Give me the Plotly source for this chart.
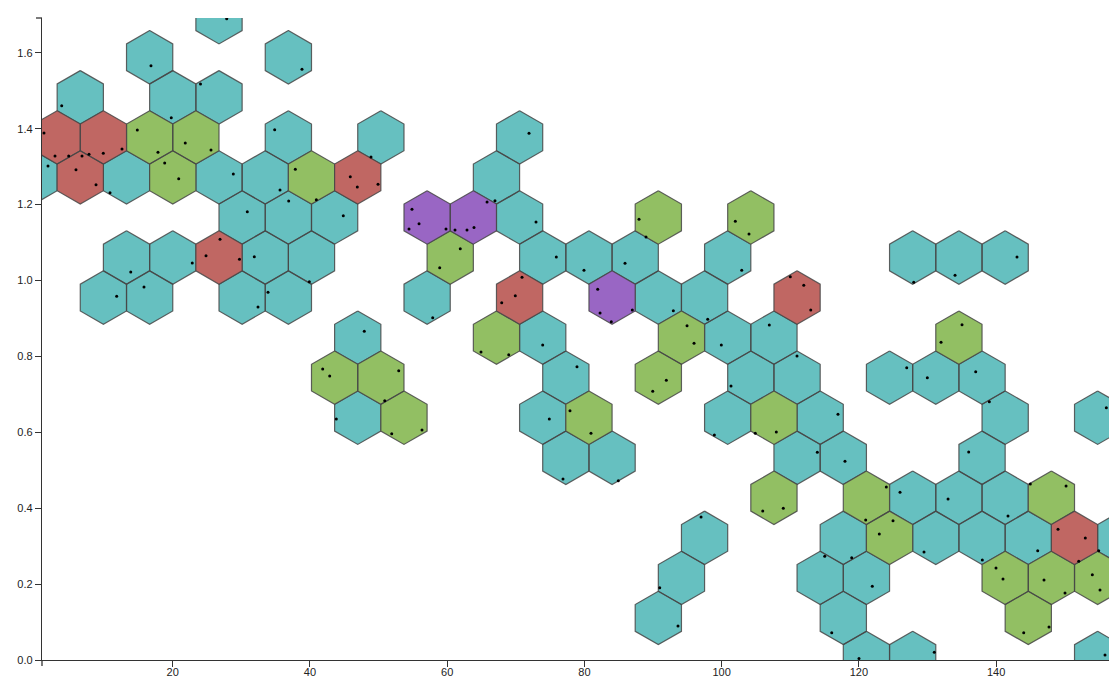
import numpy as np
import plotly.graph_objects as go

# Observations (x, y)
x_obs = [
    27.87, 16.83, 38.84, 3.82, 19.79, 24.05, 2.84, 4.84, 1.24, 7.80,
    9.88, 12.61, 14.84, 17.85, 21.83, 25.58, 34.86, 48.90, 71.93, 1.82,
    5.90, 8.82, 6.78, 10.86, 18.83, 20.87, 28.83, 35.64, 37.87, 40.93,
    45.88, 46.90, 49.92, 66.97, 30.87, 36.90, 44.86, 54.87, 55.90, 54.44,
    59.83, 65.81, 62.89, 63.91, 61.14, 72.95, 87.96, 88.98, 102.00, 103.99,
    13.88, 22.85, 26.89, 24.85, 29.73, 31.89, 39.91, 61.91, 58.91, 75.91,
    79.94, 85.92, 102.93, 128.00, 134.02, 143.05, 11.83, 15.81, 32.43, 33.89,
    57.89, 70.91, 69.93, 67.95, 81.94, 86.98, 82.28, 83.92, 92.96, 97.97,
    110.01, 111.97, 112.99, 47.92, 64.93, 68.97, 73.92, 94.96, 95.98, 99.96,
    106.95, 135.04, 131.98, 41.86, 42.88, 52.94, 50.90, 78.92, 91.94, 89.96,
    101.37, 110.99, 126.98, 129.98, 137.03, 43.84, 51.92, 56.33, 74.89, 77.90,
    80.96, 98.94, 104.91, 107.97, 116.96, 139.02, 156.07, 76.88, 84.94, 113.95,
    117.98, 136.01, 105.99, 108.99, 124.00, 121.00, 126.00, 133.00, 141.74, 144.99,
    150.20, 97.00, 118.96, 124.98, 122.98, 129.50, 138.00, 146.07, 149.03, 153.01,
    152.05, 154.96, 90.98, 115.03, 121.96, 139.99, 141.01, 146.99, 150.05, 154.03,
    155.15, 93.64, 116.05, 144.03, 147.72, 120.02, 131.00, 155.88,
]
y_obs = [
    1.690, 1.566, 1.5565, 1.4606, 1.429, 1.5178, 1.328, 1.328, 1.3887, 1.3325,
    1.3352, 1.3465, 1.3966, 1.3378, 1.3623, 1.3439, 1.3974, 1.3254, 1.3879, 1.3017,
    1.2920, 1.2524, 1.3280, 1.2313, 1.3096, 1.2682, 1.2806, 1.2385, 1.2930, 1.2129,
    1.2735, 1.2464, 1.2535, 1.2103, 1.1813, 1.2095, 1.1707, 1.1876, 1.1497, 1.1357,
    1.1357, 1.2068, 1.1331, 1.1396, 1.1331, 1.1541, 1.1612, 1.1146, 1.1560, 1.1225,
    1.0224, 1.0461, 1.1085, 1.0653, 1.0558, 1.0627, 0.9968, 1.0838, 1.0337, 1.0619,
    1.0269, 1.0453, 1.0269, 0.9953, 1.0137, 1.0619, 0.9583, 0.9829, 0.9302, 0.9689,
    0.9020, 1.0084, 0.9599, 0.9415, 0.9768, 0.9223, 0.9143, 0.8914, 0.9204, 0.8977,
    1.0100, 0.9873, 0.9223, 0.8661, 0.8116, 0.8045, 0.8300, 0.8809, 0.8345, 0.8300,
    0.8827, 0.8835, 0.8372, 0.7668, 0.7483, 0.7623, 0.6833, 0.7729, 0.7370, 0.7080,
    0.7220, 0.8010, 0.7702, 0.7439, 0.7597, 0.6350, 0.5963, 0.6060, 0.6350, 0.6569,
    0.5974, 0.5929, 0.5974, 0.6008, 0.6474, 0.6806, 0.6648, 0.4769, 0.4725, 0.5473,
    0.5236, 0.5481, 0.3926, 0.3997, 0.4559, 0.3689, 0.4419, 0.4242, 0.3794, 0.4638,
    0.4585, 0.3768, 0.2696, 0.3671, 0.3320, 0.2846, 0.2635, 0.2880, 0.3444, 0.3215,
    0.2601, 0.2880, 0.1905, 0.2733, 0.1942, 0.2424, 0.2134, 0.2108, 0.1765, 0.2248,
    0.1845, 0.0896, 0.0719, 0.0719, 0.0870, 0.0040, 0.0203, 0.0130,
]

x_ticks = [20, 40, 60, 80, 100, 120, 140]
y_ticks = [0.0, 0.2, 0.4, 0.6, 0.8, 1.0, 1.2, 1.4, 1.6]

# Fill colour per bin count
count_colors = {1: "#66c0c0", 2: "#92bf63", 3: "#c06763", 4: "#9966c4"}

# Hexagonal grid (pointy-top) expressed in data units
HEX_DX = 6.740       # horizontal distance between neighbouring centres
HEX_DY = 0.10553     # vertical distance between rows
HEX_X0 = -0.215
HEX_Y0 = 0.0053
HALF_W = HEX_DX / 2
RAD_Y = HEX_DY / 1.5

X_RANGE = [0.947, 156.46]
Y_RANGE = [0.0, 1.6917]


def hex_cell(x, y):
    """Return (row, col) of the hexagon containing (x, y)."""
    v = (y - HEX_Y0) / HEX_DY
    best = None
    for m in (int(np.floor(v)), int(np.floor(v)) + 1):
        off = 0.5 if m % 2 else 0.0
        u = (x - HEX_X0) / HEX_DX - off
        for k in (int(np.floor(u)), int(np.floor(u)) + 1):
            cx = HEX_X0 + (k + off) * HEX_DX
            cy = HEX_Y0 + m * HEX_DY
            d = ((x - cx) / HEX_DX * np.sqrt(3)) ** 2 + ((y - cy) / HEX_DY * 1.5) ** 2
            if best is None or d < best[0]:
                best = (d, m, k)
    return best[1], best[2]


bins = {}
for xv, yv in zip(x_obs, y_obs):
    cell = hex_cell(xv, yv)
    bins[cell] = bins.get(cell, 0) + 1

fig = go.Figure()

for count, color in count_colors.items():
    xs, ys = [], []
    for (m, k), c in bins.items():
        if c != count:
            continue
        off = 0.5 if m % 2 else 0.0
        cx = HEX_X0 + (k + off) * HEX_DX
        cy = HEX_Y0 + m * HEX_DY
        xs += [cx, cx + HALF_W, cx + HALF_W, cx, cx - HALF_W, cx - HALF_W, cx, None]
        ys += [cy + RAD_Y, cy + RAD_Y / 2, cy - RAD_Y / 2, cy - RAD_Y,
               cy - RAD_Y / 2, cy + RAD_Y / 2, cy + RAD_Y, None]
    if xs:
        fig.add_trace(go.Scatter(
            x=xs, y=ys, mode="lines", fill="toself", fillcolor=color,
            line=dict(color="rgba(70,70,70,0.85)", width=1.2),
            hoverinfo="skip", showlegend=False,
        ))

fig.add_trace(go.Scatter(
    x=x_obs, y=y_obs, mode="markers",
    marker=dict(color="black", size=3),
    showlegend=False,
))

axis_font = dict(family="Liberation Sans, Arial, sans-serif", size=11, color="#222")
W, H = 1109, 680
ML, MR, MT, MB = 42, 0, 18, 20

fig.update_layout(
    width=W, height=H,
    margin=dict(l=ML, r=MR, t=MT, b=MB),
    paper_bgcolor="white", plot_bgcolor="white",
    showlegend=False,
    xaxis=dict(
        range=X_RANGE, tickvals=x_ticks, ticks="outside", ticklen=6,
        tickcolor="#333", showline=True, linecolor="#333", linewidth=1.3,
        showgrid=False, zeroline=False, tickfont=axis_font, automargin=False,
        ticklabelstandoff=-4,
    ),
    yaxis=dict(
        range=Y_RANGE, tickvals=y_ticks, tickformat=".1f", ticks="outside",
        ticklen=6, tickcolor="#333", showline=True, linecolor="#333",
        linewidth=1.3, showgrid=False, zeroline=False, tickfont=axis_font,
        automargin=False,
    ),
)

# Outer end ticks of the axis domains
pw = W - ML - MR
ph = H - MT - MB
fig.add_shape(type="line", xref="paper", yref="paper",
              x0=-6 / pw, x1=0, y0=1, y1=1, line=dict(color="#333", width=1.3))
fig.add_shape(type="line", xref="paper", yref="paper",
              x0=0, x1=0, y0=0, y1=-6 / ph, line=dict(color="#333", width=1.3))

fig.write_html("out.html")
